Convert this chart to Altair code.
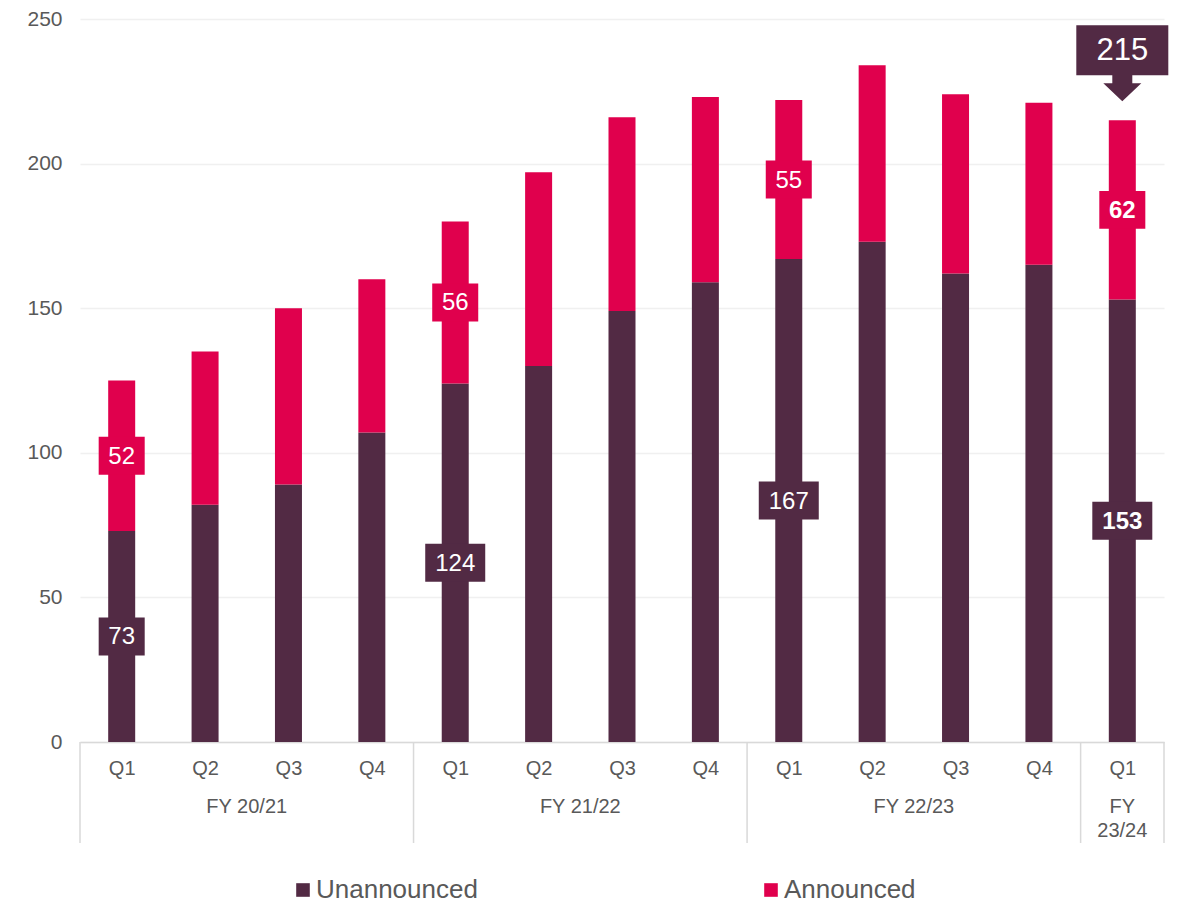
import json
import altair as alt
import pandas as pd

quarters = ["Q1", "Q2", "Q3", "Q4", "Q1", "Q2", "Q3", "Q4", "Q1", "Q2", "Q3", "Q4", "Q1"]
fiscal_years = ["FY 20/21"] * 4 + ["FY 21/22"] * 4 + ["FY 22/23"] * 4 + ["FY 23/24"]
unannounced = [73, 82, 89, 107, 124, 130, 149, 159, 167, 173, 162, 165, 153]
announced = [52, 53, 61, 53, 56, 67, 67, 64, 55, 61, 62, 56, 62]
series_names = ["Unannounced", "Announced"]
series_colors = ["#522a44", "#e0004d"]
y_ticks = [0, 50, 100, 150, 200, 250]

FONT = "Liberation Sans"
GREY = "#595959"
LINE = "#d9d9d9"
W, H = 1084, 723
n = len(quarters)
last = n - 1

# stacked bar segments
bars = []
for i in range(n):
    bars.append(dict(idx=i, series="Unannounced", y0=0, y1=unannounced[i]))
    bars.append(dict(idx=i, series="Announced", y0=unannounced[i], y1=unannounced[i] + announced[i]))
bars = pd.DataFrame(bars)

def box_path(text):
    hw = 1.0 if len(text) >= 3 else 0.767
    hh = 0.633
    return f"M{-hw},{-hh}L{hw},{-hh}L{hw},{hh}L{-hw},{hh}Z"

labels = []
for i in range(n):
    if quarters[i] != "Q1":
        continue
    u, a = unannounced[i], announced[i]
    for s, mid, v in [("Unannounced", u / 2, u), ("Announced", u + a / 2, a)]:
        t = str(v)
        labels.append(dict(idx=i, series=s, y0=mid, label=t, shape=box_path(t), bold=(i == last)))
labels = pd.DataFrame(labels)

callout = pd.DataFrame([dict(idx=last, y0=unannounced[last] + announced[last],
                             label=str(unannounced[last] + announced[last]))])

# fiscal-year groups
groups = []
for fy in dict.fromkeys(fiscal_years):
    ids = [i for i, f in enumerate(fiscal_years) if f == fy]
    txt = fy if len(ids) > 1 else fy.replace(" ", "\n")
    groups.append(dict(fy=txt, idx=(ids[0] + ids[-1]) / 2, start=ids[0] - 0.5, end=ids[-1] + 0.5))
groups = pd.DataFrame(groups)
seps = sorted(set(groups["start"]).union(groups["end"]))
seps = pd.DataFrame(dict(idx=seps))

xscale = alt.Scale(domain=[-0.5, n - 0.5], nice=False, zero=False, padding=0)
yscale = alt.Scale(domain=[0, 250], nice=False)
label_expr = json.dumps(quarters) + "[datum.value]"

xaxis = alt.Axis(values=list(range(n)), labelExpr=label_expr, title=None, grid=False,
                 ticks=False, domainColor=LINE, domainWidth=1.5, labelFontSize=20,
                 labelColor=GREY, labelFont=FONT, labelPadding=16)
yaxis = alt.Axis(values=y_ticks, title=None, domain=False, ticks=False, gridColor="#f0f0f0",
                 gridWidth=1.5, labelFontSize=21, labelColor=GREY, labelFont=FONT,
                 labelPadding=18)

X = alt.X("idx:Q", scale=xscale, axis=xaxis)
Y = alt.Y("y0:Q", scale=yscale, axis=yaxis)

bar_layer = alt.Chart(bars).mark_bar(size=27).encode(
    x=X, y=Y, y2="y1:Q",
    color=alt.Color("series:N", sort=series_names,
                    scale=alt.Scale(domain=series_names, range=series_colors),
                    legend=alt.Legend(title=None, orient="none", direction="horizontal",
                                      legendX=210, legendY=858, symbolType="square",
                                      symbolSize=185, labelFontSize=26, labelFont=FONT,
                                      labelColor=GREY, columnPadding=280, labelOffset=0,
                                      labelLimit=400, padding=0, symbolStrokeWidth=0)),
)

box_layer = alt.Chart(labels).mark_point(filled=True, opacity=1, size=3600, strokeWidth=0).encode(
    x=X, y=Y,
    shape=alt.Shape("shape:N", scale=None, legend=None),
    fill=alt.Fill("series:N", scale=alt.Scale(domain=series_names, range=series_colors), legend=None),
)

text_normal = alt.Chart(labels).transform_filter("!datum.bold").mark_text(
    color="white", fontSize=24, font=FONT, baseline="middle", dy=1).encode(
    x=X, y=Y, text="label:N",
)
text_bold = alt.Chart(labels).transform_filter("datum.bold").mark_text(
    color="white", fontSize=24, font=FONT, fontWeight="bold", baseline="middle", dy=1).encode(
    x=X, y=Y, text="label:N",
)

arrow = ("M-0.92,-1.9L0.92,-1.9L0.92,-0.9L0.2,-0.9L0.2,-0.74L0.38,-0.74L0,-0.38"
         "L-0.38,-0.74L-0.2,-0.74L-0.2,-0.9L-0.92,-0.9Z")
callout_box = alt.Chart(callout).mark_point(
    filled=True, opacity=1, size=10000, strokeWidth=0, shape=arrow, color=series_colors[0]).encode(
    x=X, y=Y,
)
callout_text = alt.Chart(callout).mark_text(
    color="white", fontSize=31, font=FONT, baseline="middle", dy=-69).encode(
    x=X, y=Y, text="label:N",
)

sep_layer = alt.Chart(seps).mark_rule(color=LINE, strokeWidth=1.5).encode(
    x=X,
    y=alt.value(H),
    y2=alt.value(H + 101),
)

fy_layer = alt.Chart(groups).mark_text(
    fontSize=20, font=FONT, color=GREY, baseline="alphabetic", lineBreak="\n", lineHeight=24).encode(
    x=X,
    y=alt.value(H + 71),
    text="fy:N",
)

chart = alt.layer(
    bar_layer, sep_layer, fy_layer, box_layer, text_normal, text_bold, callout_box, callout_text
).properties(
    width=W, height=H,
    background="white",
    autosize=alt.AutoSizeParams(type="none"),
    padding={"left": 72, "top": 11, "right": 8, "bottom": 163},
).configure_view(strokeWidth=0, stroke="transparent")

chart.save("out.html", embed_options={"renderer": "svg", "actions": False})
